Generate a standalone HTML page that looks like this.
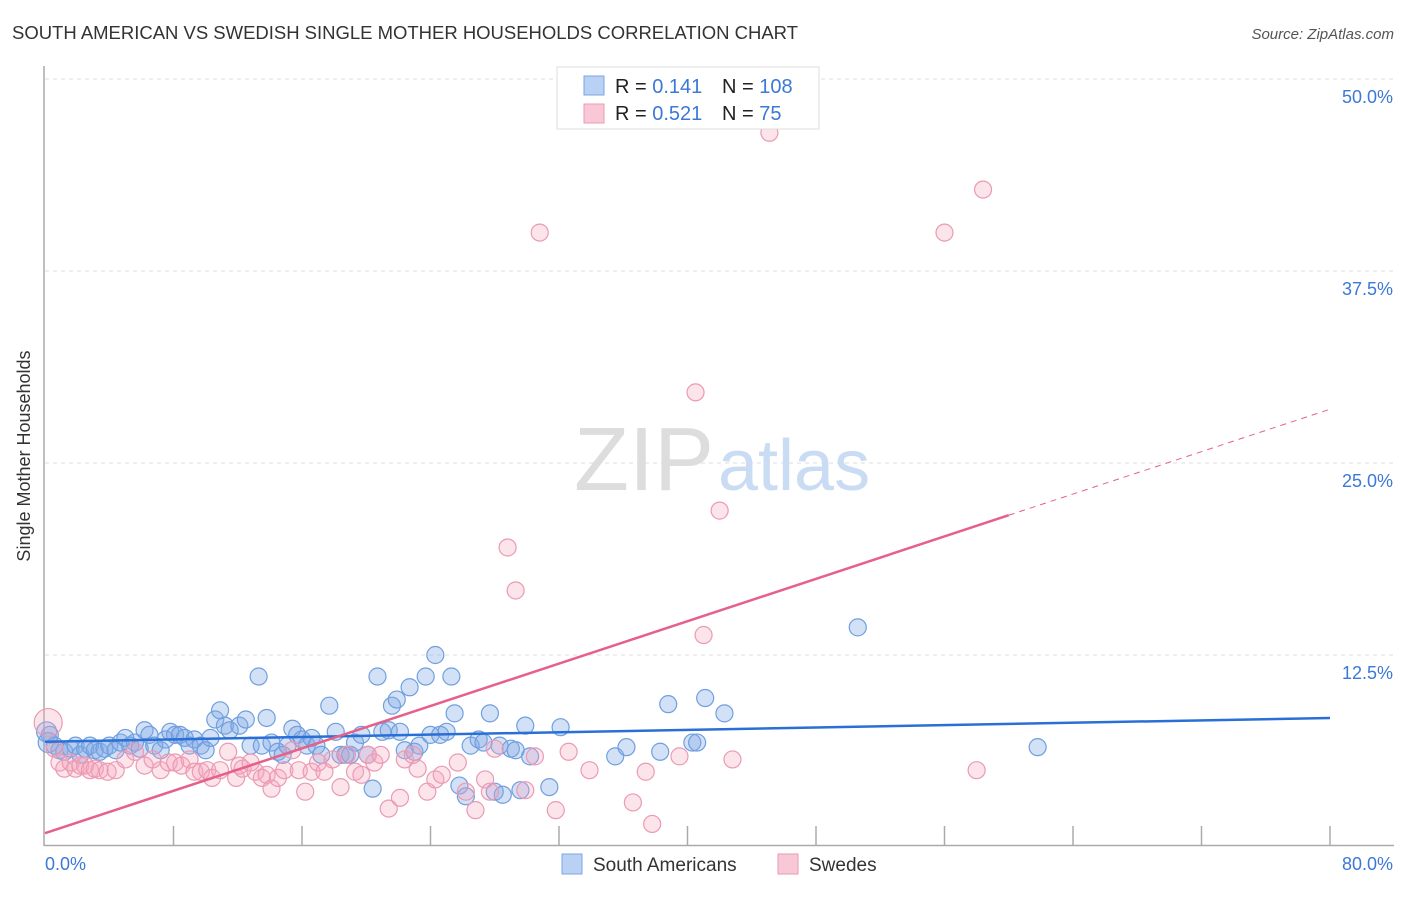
<!DOCTYPE html>
<html><head><meta charset="utf-8"><style>
body{margin:0;background:#fff;font-family:"Liberation Sans",sans-serif;}
svg text{font-family:"Liberation Sans",sans-serif;}
</style></head><body>
<svg id="chart" width="1406" height="892" viewBox="0 0 1406 892">
<text x="12" y="39" font-size="18.5" fill="#333" textLength="786" lengthAdjust="spacing">SOUTH AMERICAN VS SWEDISH SINGLE MOTHER HOUSEHOLDS CORRELATION CHART</text>
<text x="1394" y="39" font-size="15" fill="#555" font-style="italic" text-anchor="end">Source: ZipAtlas.com</text>
<g id="grid"></g>
<text x="714" y="490" font-size="90" fill="#ddd" text-anchor="end" font-family="Liberation Serif">ZIP</text>
<text x="718" y="490" font-size="72" fill="#c9dcf3">atlas</text>
<g id="points"></g>
<g id="lines"></g>
<text x="30" y="456" font-size="18" fill="#333" text-anchor="middle" transform="rotate(-90 30 456)">Single Mother Households</text>
<text x="45" y="870" font-size="18" fill="#3b78d8">0.0%</text>
<text x="1393" y="870" font-size="18" fill="#3b78d8" text-anchor="end">80.0%</text>
<g>
<rect x="557" y="67" width="262" height="62" fill="#fff" stroke="#ddd"/>
<rect x="584" y="76" width="20" height="19" fill="#b9d1f3" stroke="#7aa5e3"/>
<rect x="584" y="104" width="20" height="19" fill="#f9c8d6" stroke="#eb9ab4"/>
<text x="615" y="93" font-size="20" fill="#222">R = <tspan fill="#3b78d8"> 0.141</tspan></text>
<text x="722" y="93" font-size="20" fill="#222">N = <tspan fill="#3b78d8">108</tspan></text>
<text x="615" y="120" font-size="20" fill="#222">R = <tspan fill="#3b78d8">0.521</tspan></text>
<text x="722" y="120" font-size="20" fill="#222">N = <tspan fill="#3b78d8">  75</tspan></text>
</g>
<g>
<rect x="562" y="854" width="20" height="20" fill="#b9d1f3" stroke="#7aa5e3"/>
<text x="593" y="871" font-size="19" fill="#333">South Americans</text>
<rect x="778" y="854" width="20" height="20" fill="#f9c8d6" stroke="#eb9ab4"/>
<text x="809" y="871" font-size="19" fill="#333">Swedes</text>
</g>
</svg>
<script>
const yTicks=[12.5,25,37.5,50];
const yTickLabels=["12.5%","25.0%","37.5%","50.0%"];
const xTicks=[0,8,16,24,32,40,48,56,64,72,80];
const blueX=[0.3,0.6,0.9,1.2,1.6,1.9,2.2,2.5,2.8,3.1,3.4,3.7,4.0,4.4,4.7,5.0,5.3,5.6,5.9,6.2,6.5,6.8,7.2,7.5,7.8,8.1,8.4,8.7,9.0,9.3,9.7,10.0,10.3,10.6,10.9,11.2,11.5,12.1,12.5,12.8,13.3,13.5,13.8,14.1,14.5,14.8,15.1,15.4,15.7,16.0,16.3,16.6,16.9,17.2,17.7,18.1,18.4,18.7,19.0,19.3,19.7,20.1,20.4,20.7,21.0,21.4,21.6,21.9,22.1,22.4,22.7,23.0,23.3,23.7,24.0,24.3,24.6,25.0,25.3,25.5,25.8,26.2,26.5,27.0,27.3,27.7,28.0,28.3,28.5,29.0,29.3,29.6,29.9,30.2,31.4,32.1,35.5,36.2,38.3,38.8,40.3,40.6,41.1,42.3,50.6,61.8,0.1,0.2];
const blueY=[7.3,6.6,6.3,6.2,6.4,6.6,6.0,6.4,6.6,6.3,6.2,6.4,6.6,6.3,6.8,7.1,6.6,6.8,6.4,7.6,7.3,6.6,6.3,7.0,7.5,7.3,7.3,7.1,6.6,7.0,6.6,6.3,7.1,8.3,8.9,7.9,7.6,7.9,8.3,6.6,11.1,6.6,8.4,6.8,6.2,6.0,6.6,7.7,7.3,7.0,6.6,7.1,6.6,6.0,9.2,7.5,6.0,6.0,6.0,6.8,7.3,6.0,3.8,11.1,7.5,7.6,9.2,9.6,7.5,6.3,10.4,6.2,6.6,11.1,7.3,12.5,7.3,7.5,11.1,8.7,4.0,3.3,6.6,7.0,6.8,8.7,3.6,6.6,3.4,6.4,6.3,3.7,7.9,5.9,3.9,7.8,5.9,6.5,6.2,9.3,6.8,6.8,9.7,8.7,14.3,6.5,7.5,6.8];
const pinkX=[0.2,0.6,0.9,1.2,1.6,1.9,2.2,2.5,2.8,3.1,3.4,3.9,4.4,5.0,5.6,6.2,6.7,7.2,7.7,8.1,8.5,9.0,9.3,9.7,10.1,10.4,10.9,11.4,11.9,12.1,12.3,12.8,13.1,13.5,13.8,14.1,14.5,14.9,15.4,15.8,16.2,16.6,17.0,17.4,17.9,18.4,18.8,19.3,19.7,20.1,20.5,20.9,21.4,22.1,22.4,22.9,23.2,23.8,24.3,24.7,25.7,26.2,26.8,27.4,27.7,28.0,28.8,29.3,29.9,30.5,30.8,31.8,32.6,33.9,36.6,37.4,37.8,39.5,40.5,41.0,42.0,42.8,45.1,56.0,58.0,58.4];
const pinkY=[8.1,6.4,5.5,5.1,5.5,5.1,5.3,5.3,5.0,5.1,5.0,4.9,5.0,5.7,6.2,5.3,5.7,5.0,5.5,5.5,5.3,5.7,4.9,4.9,5.0,4.5,5.0,6.2,4.5,5.3,5.1,5.5,4.9,4.5,4.7,3.8,4.5,5.0,6.3,5.0,3.6,4.9,5.5,4.9,5.7,3.9,6.0,4.9,4.7,6.0,5.5,6.0,2.5,3.2,5.7,6.0,5.1,3.6,4.4,4.7,5.5,3.6,2.4,4.4,3.6,6.4,19.5,16.7,3.7,5.9,40.0,2.4,6.2,5.0,2.9,4.9,1.5,5.9,29.6,13.8,21.9,5.7,46.5,40.0,5.0,42.8];
const blueLine=[6.85,8.4];
const pinkLine=[0.9,21.6,28.5];
const X0=45,X1=1330,Y0=847,Y50=79;
const sx=v=>X0+(X1-X0)*v/80;
const sy=v=>Y0-(Y0-Y50)*v/50;
const NS="http://www.w3.org/2000/svg";
function mk(t,a,p){const e=document.createElementNS(NS,t);for(const k in a)e.setAttribute(k,a[k]);p.appendChild(e);return e;}
const grid=document.getElementById('grid');
yTicks.forEach((t,i)=>{
 const l=mk('line',{x1:45,x2:1394,y1:sy(t),y2:sy(t),stroke:'#ddd','stroke-dasharray':'4,4'},grid);
 
 
 const tx=mk('text',{x:1393,y:sy(t)+24,'font-size':18,fill:'#3b78d8','text-anchor':'end'},grid);
 tx.textContent=yTickLabels[i];
 
 
});
const ax=mk('line',{x1:44,x2:44,y1:66,y2:846,stroke:'#aaa','stroke-width':1.5},grid);


const bx=mk('line',{x1:44,x2:1394,y1:845.5,y2:845.5,stroke:'#aaa','stroke-width':1.5},grid);


xTicks.forEach(t=>{
 if(t===0)return;
 const l=mk('line',{x1:sx(t),x2:sx(t),y1:826,y2:846,stroke:'#aaa','stroke-width':1.5},grid);
 
 
});
const pts=document.getElementById('points');
blueX.forEach((x,i)=>{
 const r=i>=blueX.length-2?10:8.5;
 const c=mk('circle',{cx:sx(x),cy:sy(blueY[i]),r:r,fill:'rgba(130,170,230,0.35)',stroke:'#6f9fe0','stroke-width':1.2},pts);
 
 
});
pinkX.forEach((x,i)=>{
 const c=mk('circle',{cx:sx(x),cy:sy(pinkY[i]),r:i===0?14:8.5,fill:'rgba(245,165,190,0.3)',stroke:'#eb9ab4','stroke-width':1.2},pts);
 
 
});
const ln=document.getElementById('lines');
const b=mk('line',{x1:sx(0),y1:sy(blueLine[0]),x2:sx(80),y2:sy(blueLine[1]),stroke:'#2a6fd6','stroke-width':2.5},ln);


const p=mk('line',{x1:sx(0),y1:sy(pinkLine[0]),x2:sx(60),y2:sy(pinkLine[1]),stroke:'#e5608a','stroke-width':2.5},ln);


const pd=mk('line',{x1:sx(60),y1:sy(pinkLine[1]),x2:sx(80),y2:sy(pinkLine[2]),stroke:'#e5608a','stroke-width':1,'stroke-dasharray':'6,5'},ln);


</script>
</body></html>
